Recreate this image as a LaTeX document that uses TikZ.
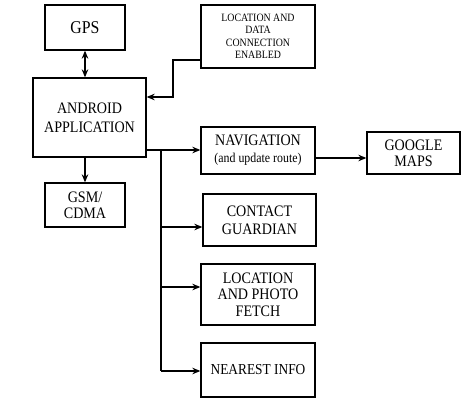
\documentclass[tikz,border=0pt]{standalone}
\usepackage{fontspec}
\setmainfont{Liberation Serif}[FakeStretch=0.88]
\usetikzlibrary{arrows.meta}
\begin{document}
\begin{tikzpicture}[x=1pt,y=-1pt,
  box/.style={draw,line width=1.3pt,rectangle,align=center,inner sep=1pt,font=\fontsize{16}{18}\selectfont},
  arr/.style={line width=1.3pt,-{Stealth[length=8pt,width=6.5pt]}},
  darr/.style={line width=1.3pt,{Stealth[length=8pt,width=6.5pt]}-{Stealth[length=8pt,width=6.5pt]}},
  ln/.style={line width=1.3pt}]
\useasboundingbox (0,0) rectangle (474,404);
\node[box,minimum width=80pt,minimum height=45pt,font=\fontsize{18}{20}\selectfont] (gps) at (85,27.5) {GPS};
\node[box,minimum width=114pt,minimum height=63pt,font=\fontsize{11.2}{12.5}\selectfont] (loc) at (258,36.5) {LOCATION AND\\DATA\\CONNECTION\\ENABLED};
\node[box,minimum width=113pt,minimum height=79pt,font=\fontsize{16}{19}\selectfont] (app) at (89.5,117.5) {ANDROID\\APPLICATION};
\node[box,minimum width=80pt,minimum height=44pt,font=\fontsize{16}{16}\selectfont] (gsm) at (85,205) {GSM/\\CDMA};
\node[box,minimum width=114pt,minimum height=47pt,font=\fontsize{16}{17}\selectfont] (nav) at (258,150.5) {NAVIGATION\\{\fontsize{13.5}{14}\selectfont(and update route)}};
\node[box,minimum width=93pt,minimum height=42pt,font=\fontsize{16}{16}\selectfont] (maps) at (413.5,153) {GOOGLE\\MAPS};
\node[box,minimum width=113pt,minimum height=52pt,font=\fontsize{16}{18}\selectfont] (contact) at (259.5,220) {CONTACT\\GUARDIAN};
\node[box,minimum width=114pt,minimum height=61pt,font=\fontsize{16}{16.5}\selectfont] (photo) at (258,294.5) {LOCATION\\AND PHOTO\\FETCH};
\node[box,minimum width=114pt,minimum height=54pt,font=\fontsize{15.2}{16}\selectfont] (near) at (258,370) {NEAREST INFO};
% connectors
\draw[darr] (gps.south) -- (gps.south |- app.north);
\draw[arr] (app.south -| gsm.north) -- (gsm.north);
\coordinate (k1) at (173,97);
\draw[arr] ([yshift=-23.5pt]loc.west) -| (k1) -- (k1 -| app.east);
\coordinate (t0) at (161,150);
\coordinate (b1) at (161,227);
\coordinate (b2) at (161,287);
\coordinate (b3) at (161,371);
\draw[arr] (app.east |- t0) -- (nav.west |- t0);
\draw[ln] (t0) -- (b3);
\draw[arr] (b1) -- (b1 -| contact.west);
\draw[arr] (b2) -- (b2 -| photo.west);
\draw[arr] (b3) -- (b3 -| near.west);
\coordinate (m0) at (315,158);
\draw[arr] (nav.east |- m0) -- (maps.west |- m0);
\end{tikzpicture}
\end{document}
